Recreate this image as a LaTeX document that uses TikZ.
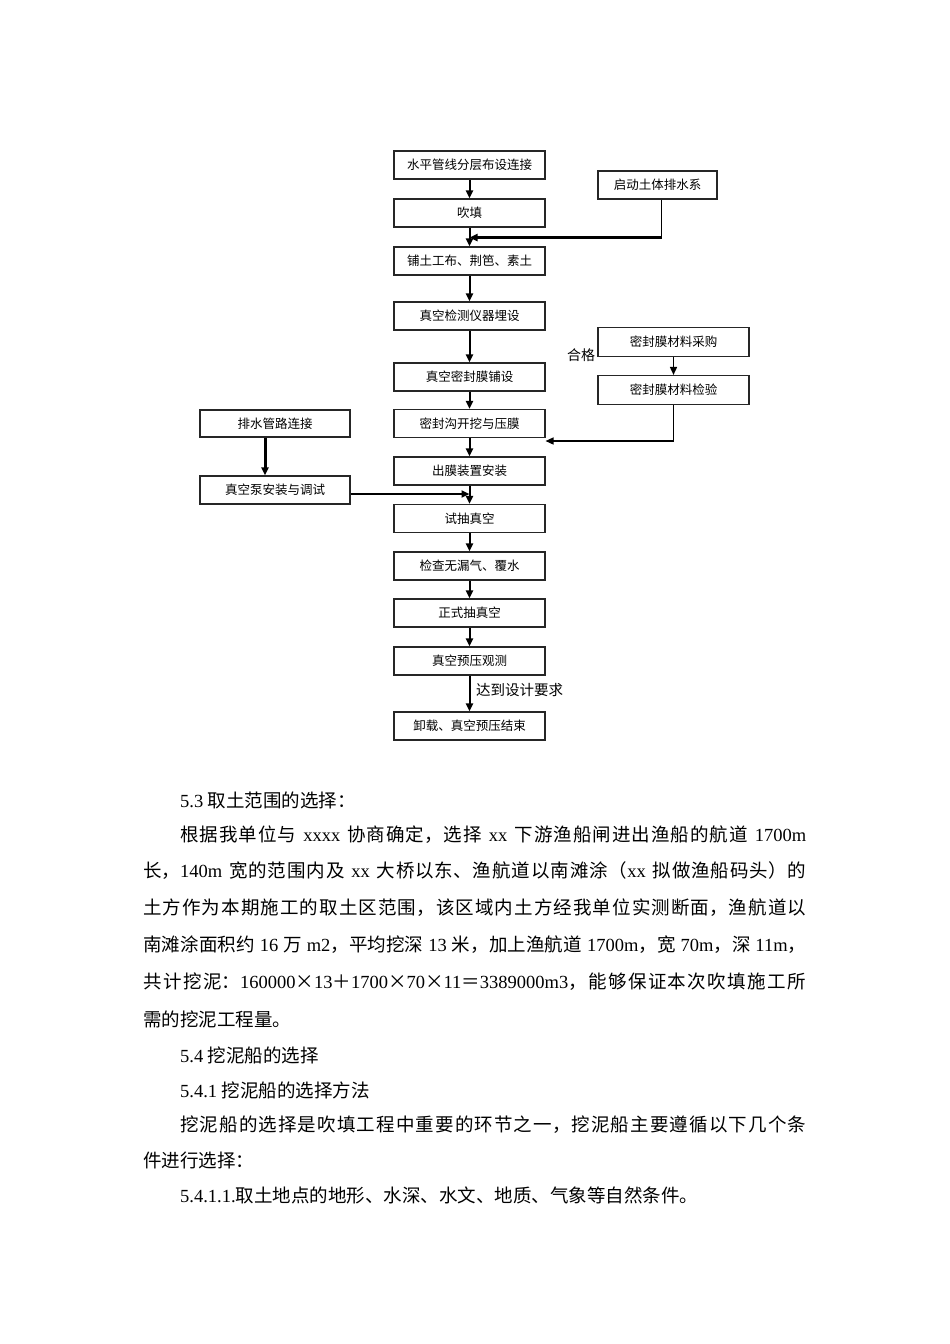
\documentclass[tikz,border=0pt]{standalone}
\usepackage{fontspec}
\setmainfont{Noto Sans CJK SC}
\newfontfamily\latinfont{Liberation Serif}
\usetikzlibrary{arrows.meta}
\XeTeXlinebreaklocale "zh"
\XeTeXlinebreakskip=0pt plus 1pt minus 0.3pt

\newcommand{\boxfont}{\fontsize{12.5}{15}\selectfont}
\newcommand{\bodyfont}{\fontsize{18.5}{22}\selectfont}
\newcommand{\latn}[1]{{\latinfont #1}}

\tikzset{
  stepbox/.style={draw=black!85, line width=1.1pt, minimum width=151pt,
    minimum height=28pt, inner sep=0pt, font=\boxfont},
  tip/.style={-{Triangle[length=8pt,width=7pt]}},
  flow/.style={tip, line width=2pt},
  bodyline/.style={anchor=west, inner sep=0pt, font=\bodyfont},
  justfull/.style={bodyline, text width=663pt, align=justify,
    execute at begin node={\parfillskip=0pt\relax}},
  justind/.style={justfull, text width=626pt},
}

\begin{document}
\begin{tikzpicture}[x=1pt, y=-1pt]
  \useasboundingbox[fill=white] (0,0) rectangle (950,1344);
  % main column
  \node[stepbox] (layout) at (469.5,165) {水平管线分层布设连接};
  \node[stepbox] (fill) at (469.5,213) {吹填};
  \node[stepbox] (geotex) at (469.5,261) {铺土工布、荆笆、素土};
  \node[stepbox] (sensor) at (469.5,316) {真空检测仪器埋设};
  \node[stepbox] (membrane) at (469.5,377) {真空密封膜铺设};
  \node[stepbox] (trench) at (469.5,423.5) {密封沟开挖与压膜};
  \node[stepbox] (outlet) at (469.5,471) {出膜装置安装};
  \node[stepbox] (trial) at (469.5,518.5) {试抽真空};
  \node[stepbox] (leak) at (469.5,566) {检查无漏气、覆水};
  \node[stepbox] (pumping) at (469.5,613) {正式抽真空};
  \node[stepbox] (observe) at (469.5,661) {真空预压观测};
  \node[stepbox] (unload) at (469.5,726) {卸载、真空预压结束};
  % side boxes
  \node[stepbox, minimum width=119pt] (drainsys) at (657.5,185) {启动土体排水系};
  \node[stepbox, minimum height=29pt] (purchase) at (673.5,342) {密封膜材料采购};
  \node[stepbox, minimum height=29pt] (inspect) at (673.5,390) {密封膜材料检验};
  \node[stepbox, minimum width=150pt, minimum height=27pt] (pipes) at (275,423.5) {排水管路连接};
  \node[stepbox, minimum width=150pt] (pump) at (275,490) {真空泵安装与调试};
  \node[font=\fontsize{14}{16}\selectfont, inner sep=0pt] (qualified) at (581,355) {合格};
  \node[anchor=west, font=\fontsize{14.5}{17}\selectfont, inner sep=0pt] (reach) at (476,690) {达到设计要求};

  \draw[flow] (layout) -- (fill);
  \draw[flow] (fill) -- (geotex);
  \draw[flow] (geotex) -- (sensor);
  \draw[flow] (sensor) -- (membrane);
  \draw[flow] (membrane) -- (trench);
  \draw[flow] (trench) -- (outlet);
  \draw[flow] (outlet) -- (trial);
  \draw[flow] (trial) -- (leak);
  \draw[flow] (leak) -- (pumping);
  \draw[flow] (pumping) -- (observe);
  \draw[flow] (observe) -- (unload);

  \draw[line width=1pt] ([xshift=4pt]drainsys.south) -- ++(0,38) coordinate (drainbend);
  \draw[tip, line width=3pt] (drainbend) -- (drainbend -| fill.south);
  \draw[tip, line width=1.5pt] (purchase) -- (inspect);
  \draw[tip, line width=1.5pt] (inspect.south) |- ([yshift=-17.5pt]trench.east);
  \draw[tip, line width=3pt] ([xshift=-10pt]pipes.south) -- ([xshift=-10pt]pump.north);
  \draw[tip, line width=2pt] ([yshift=-4pt]pump.east) -- ([yshift=-4pt]pump.east -| outlet.south);

  % text below the chart
  \node[bodyline] (sec53) at (180,800) {\latn{5.3 }取土范围的选择：};
  \node[justind] (para1a) at (180,835) {根据我单位与\latn{ xxxx }协商确定，选择\latn{ xx }下游渔船闸进出渔船的航道\latn{ 1700m}};
  \node[justfull] (para1b) at (143,871) {长，\latn{140m }宽的范围内及\latn{ xx }大桥以东、渔航道以南滩涂（\latn{xx }拟做渔船码头）的};
  \node[justfull] (para1c) at (143,908) {土方作为本期施工的取土区范围，该区域内土方经我单位实测断面，渔航道以};
  \node[justfull] (para1d) at (143,945) {南滩涂面积约\latn{ 16 }万\latn{ m2}，平均挖深\latn{ 13 }米，加上渔航道\latn{ 1700m}，宽\latn{ 70m}，深\latn{ 11m}，};
  \node[justfull] (para1e) at (143,982) {共计挖泥：\latn{160000}×\latn{13}＋\latn{1700}×\latn{70}×\latn{11}＝\latn{3389000m3}，能够保证本次吹填施工所};
  \node[bodyline] (para1f) at (143,1019) {需的挖泥工程量。};
  \node[bodyline] (sec54) at (180,1055) {\latn{5.4 }挖泥船的选择};
  \node[bodyline] (sec541) at (180,1090) {\latn{5.4.1 }挖泥船的选择方法};
  \node[justind] (para2a) at (180,1125) {挖泥船的选择是吹填工程中重要的环节之一，挖泥船主要遵循以下几个条};
  \node[bodyline] (para2b) at (143,1160) {件进行选择：};
  \node[bodyline] (sec5411) at (180,1195) {\latn{5.4.1.1.}取土地点的地形、水深、水文、地质、气象等自然条件。};
\end{tikzpicture}
\end{document}
